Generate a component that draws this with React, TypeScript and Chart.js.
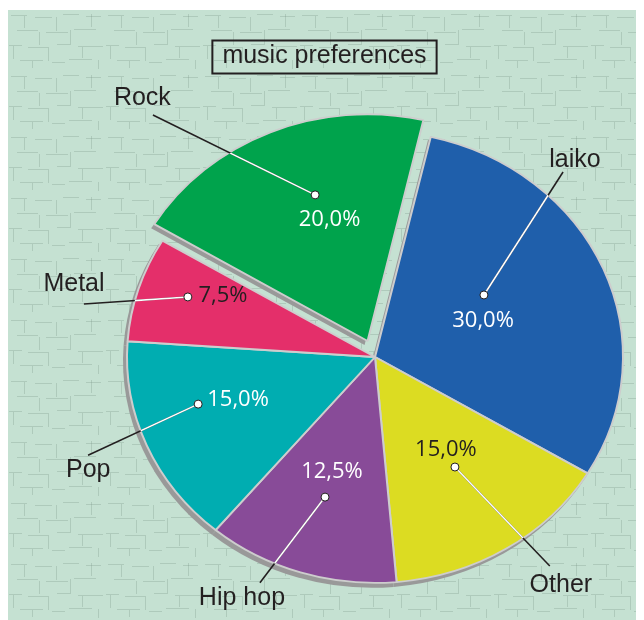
import React, { useEffect, useRef } from "react";
import { Chart, registerables } from "chart.js";

Chart.register(...registerables);

// ---- data ----
const categories = ["laiko", "Other", "Hip hop", "Pop", "Metal", "Rock"];
const shares = [30, 15, 12.5, 15, 7.5, 20];
const pctLabels = ["30,0%", "15,0%", "12,5%", "15,0%", "7,5%", "20,0%"];
const titleText = "music preferences";

// ---- styles ----
const sliceColors = ["#1f5fab", "#dcdc22", "#884b98", "#00adb1", "#e42f6a", "#00a34c"];
const pctColors = ["#ffffff", "#231f20", "#ffffff", "#ffffff", "#231f20", "#ffffff"];
const explode = [0, 0, 0, 0, 0, 76];

// annotation placement: [angle in degrees clockwise from top, radius as a fraction of the pie radius]
const dotPos = [[58, 0.518], [146.5, 0.584], [198, 0.652], [253.7, 0.743], [289.4, 0.8], [341.4, 0.757]];
const pctPos = [[69.9, 0.464], [145.2, 0.501], [198.8, 0.538], [251, 0.584], [293.8, 0.67], [343.2, 0.634]];
const lineEndPos = [[42.8, 1.116], [142.7, 1.163], [204.9, 1.102], [249.4, 1.236], [281.3, 1.197], [320.1, 1.396]];
const labelPos = [[42.8, 1.187], [143.4, 1.257], [206.7, 1.194], [246.6, 1.26], [284.9, 1.256], [320.7, 1.481]];

const SQUASH = 0.911;
const BG = "#c5e1d2";
const TEXT = "#231f20";

function applySquash(ctx: CanvasRenderingContext2D, cx: number, cy: number) {
  ctx.translate(cx, cy);
  ctx.scale(1, SQUASH);
  ctx.translate(-cx, -cy);
}

function arcCenter(arc: any, i: number) {
  const off = (explode[i] || 0) / 4;
  const half = (arc.startAngle + arc.endAngle) / 2;
  return { x: arc.x + Math.cos(half) * off, y: arc.y + Math.sin(half) * off, half };
}

const bgPlugin = {
  id: "bg",
  beforeDraw(chart: any) {
    const ctx: CanvasRenderingContext2D = chart.ctx;
    const { width, height } = chart;
    ctx.save();
    ctx.fillStyle = BG;
    ctx.fillRect(0, 2, width, height - 2);
    // subtle paper texture
    const tile = document.createElement("canvas");
    tile.width = 97;
    tile.height = 61;
    const t = tile.getContext("2d")!;
    t.strokeStyle = "rgba(115,145,130,0.28)";
    t.lineWidth = 1;
    t.beginPath();
    const h: number[][] = [
      [3, 7, 19], [27, 9, 44], [55, 6, 71], [78, 8, 93],
      [9, 22, 30], [38, 24, 60], [66, 21, 88],
      [1, 37, 14], [20, 39, 41], [49, 36, 63], [70, 38, 95],
      [12, 52, 35], [44, 54, 57], [61, 51, 84],
    ];
    h.forEach(([x0, y, x1]) => { t.moveTo(x0, y + 0.5); t.lineTo(x1, y + 0.5); });
    const v: number[][] = [
      [16, 8, 20], [48, 9, 23], [83, 6, 19], [31, 24, 37], [62, 22, 36],
      [5, 38, 51], [40, 40, 53], [74, 39, 50], [24, 53, 60], [90, 52, 61],
    ];
    v.forEach(([x, y0, y1]) => { t.moveTo(x + 0.5, y0); t.lineTo(x + 0.5, y1); });
    t.stroke();
    const pat = ctx.createPattern(tile, "repeat");
    if (pat) {
      ctx.fillStyle = pat;
      ctx.fillRect(0, 2, width, height - 2);
    }
    ctx.restore();
  },
};

const squashPlugin = {
  id: "squash",
  beforeDatasetsDraw(chart: any) {
    const ctx: CanvasRenderingContext2D = chart.ctx;
    const meta = chart.getDatasetMeta(0);
    const first = meta.data[0];
    const cx = first.x, cy = first.y;
    // shadow
    ctx.save();
    ctx.translate(-3, 4);
    applySquash(ctx, cx, cy);
    ctx.fillStyle = "#999999";
    meta.data.forEach((arc: any, i: number) => {
      const c = arcCenter(arc, i);
      ctx.beginPath();
      ctx.moveTo(c.x, c.y);
      ctx.arc(c.x, c.y, arc.outerRadius + 1, arc.startAngle, arc.endAngle);
      ctx.closePath();
      ctx.fill();
    });
    ctx.restore();
    ctx.save();
    applySquash(ctx, cx, cy);
  },
  afterDatasetsDraw(chart: any) {
    chart.ctx.restore();
  },
};

const annotPlugin = {
  id: "annot",
  afterDraw(chart: any) {
    const ctx: CanvasRenderingContext2D = chart.ctx;
    const meta = chart.getDatasetMeta(0);
    const first = meta.data[0];
    const cx = first.x, cy = first.y, R = first.outerRadius;
    const pt = (p: number[]) => {
      const a = ((p[0] - 90) * Math.PI) / 180;
      return { x: cx + Math.cos(a) * R * p[1], y: cy + Math.sin(a) * R * p[1] * SQUASH };
    };

    // title
    ctx.save();
    ctx.font = '25px "Liberation Sans", Arial, sans-serif';
    ctx.textAlign = "center";
    ctx.textBaseline = "middle";
    ctx.fillStyle = TEXT;
    const tw = ctx.measureText(titleText).width;
    const tx = 316.5, ty = 48.5;
    ctx.fillText(titleText, tx, ty);
    ctx.lineWidth = 2;
    ctx.strokeStyle = TEXT;
    ctx.strokeRect(tx - tw / 2 - 10, ty - 16, tw + 20, 33);
    ctx.restore();

    // leader lines (black everywhere)
    ctx.save();
    ctx.lineWidth = 1.6;
    ctx.strokeStyle = TEXT;
    categories.forEach((_, i) => {
      const a = pt(dotPos[i]);
      const b = pt(lineEndPos[i]);
      ctx.beginPath();
      ctx.moveTo(a.x, a.y);
      ctx.lineTo(b.x, b.y);
      ctx.stroke();
    });
    ctx.restore();

    // white inside the slices
    ctx.save();
    ctx.beginPath();
    meta.data.forEach((arc: any, i: number) => {
      const c = arcCenter(arc, i);
      const yc = cy + (c.y - cy) * SQUASH;
      ctx.moveTo(c.x, yc);
      ctx.ellipse(c.x, yc, arc.outerRadius, arc.outerRadius * SQUASH, 0, arc.startAngle, arc.endAngle);
      ctx.closePath();
    });
    ctx.clip();
    ctx.lineWidth = 1.6;
    ctx.strokeStyle = "#ffffff";
    categories.forEach((_, i) => {
      const a = pt(dotPos[i]);
      const b = pt(lineEndPos[i]);
      ctx.beginPath();
      ctx.moveTo(a.x, a.y);
      ctx.lineTo(b.x, b.y);
      ctx.stroke();
    });
    ctx.restore();

    // dots
    ctx.save();
    categories.forEach((_, i) => {
      const a = pt(dotPos[i]);
      ctx.beginPath();
      ctx.arc(a.x, a.y, 4, 0, Math.PI * 2);
      ctx.fillStyle = "#ffffff";
      ctx.fill();
      ctx.lineWidth = 1;
      ctx.strokeStyle = TEXT;
      ctx.stroke();
    });
    ctx.restore();

    // percentages
    ctx.save();
    ctx.font = '22px "Open Sans", "Noto Sans", sans-serif';
    ctx.textAlign = "center";
    ctx.textBaseline = "middle";
    pctLabels.forEach((txt, i) => {
      const p = pt(pctPos[i]);
      ctx.fillStyle = pctColors[i];
      ctx.fillText(txt, p.x, p.y);
    });
    ctx.restore();

    // category labels
    ctx.save();
    ctx.font = '25px "Liberation Sans", Arial, sans-serif';
    ctx.textAlign = "center";
    ctx.textBaseline = "middle";
    ctx.fillStyle = TEXT;
    categories.forEach((txt, i) => {
      const p = pt(labelPos[i]);
      ctx.fillText(txt, p.x, p.y);
    });
    ctx.restore();
  },
};

export default function App() {
  const ref = useRef<HTMLCanvasElement | null>(null);
  useEffect(() => {
    if (!ref.current) return;
    const chart = new Chart(ref.current, {
      type: "pie",
      data: {
        labels: categories,
        datasets: [
          {
            data: shares,
            backgroundColor: sliceColors,
            borderColor: "#cdcdcd",
            borderWidth: 2,
            offset: explode,
            clip: false,
          } as any,
        ],
      },
      options: {
        responsive: false,
        animation: false,
        devicePixelRatio: 1,
        events: [],
        rotation: 13,
        radius: 248,
        layout: { padding: { left: 98, right: 0, top: 86, bottom: 0 } },
        plugins: {
          legend: { display: false },
          tooltip: { enabled: false },
          title: { display: false },
        },
      } as any,
      plugins: [bgPlugin, squashPlugin, annotPlugin],
    });
    return () => chart.destroy();
  }, []);
  return (
    <canvas ref={ref} width={636} height={612} style={{ display: "block", width: 636, height: 612 }} />
  );
}
